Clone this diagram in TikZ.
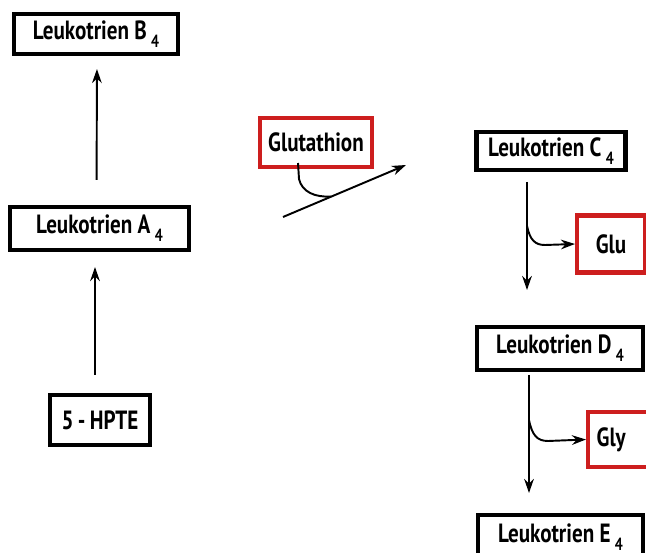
\documentclass[tikz,border=0pt]{standalone}
\usepackage{fontspec}
\setmainfont{PT Sans}[FakeStretch=0.8]
\usetikzlibrary{arrows.meta, positioning, calc}
\definecolor{boxred}{RGB}{205,30,30}
\newcommand{\lt}[2]{Leukotrien #1\,\raisebox{-0.6ex}{\fontsize{10}{10}\selectfont #2}}
\tikzset{
  stoffbox/.style={rectangle, draw=black, line width=2.3pt, fill=white,
                   inner sep=0pt, font=\fontsize{15}{17}\selectfont\bfseries},
  agensbox/.style={stoffbox, draw=boxred},
  pfeil/.style={line width=1.1pt, -{Stealth[length=8pt, width=5.5pt]}},
  linie/.style={line width=1.1pt},
}
\begin{document}
\begin{tikzpicture}[x=0.02cm, y=-0.02cm]
    \useasboundingbox (0,0) rectangle (646,553);
    \clip (0,0) rectangle (646,553);
    % Left column
    \node[stoffbox, minimum width=164*0.02cm, minimum height=40*0.02cm]
      (ltb) at (96,34) {\lt{B}{4}};
    \node[stoffbox, minimum width=179*0.02cm, minimum height=43*0.02cm]
      (lta) at (99.5,228.5) {\lt{A}{4}};
    \node[stoffbox, minimum width=100*0.02cm, minimum height=50*0.02cm]
      (hpte) at (100,420) {5\,-\,HPTE};
    \draw[pfeil, shorten <=25*0.02cm, shorten >=13*0.02cm]
      ([xshift=-3*0.02cm]lta.north) -- ([xshift=1*0.02cm]ltb.south);
    \draw[pfeil, shorten <=18*0.02cm, shorten >=15*0.02cm]
      ([xshift=-5*0.02cm]hpte.north) -- ([xshift=-4.5*0.02cm]lta.south);
    % Glutathion
    \node[agensbox, minimum width=112*0.02cm, minimum height=49*0.02cm]
      (glut) at (316,142.5) {Glutathion};
    \coordinate (diagA) at (283,217);
    \coordinate (diagB) at (406,165);
    \coordinate (diagM) at (331,196.5);
    \draw[pfeil] (diagA) -- (diagB);
    \draw[linie] ([xshift=-18*0.02cm, yshift=6*0.02cm]glut.south)
      -- ++(1,16) .. controls (302,192) and (315,197.5) .. (diagM);
    % Right column
    \node[stoffbox, minimum width=149*0.02cm, minimum height=38*0.02cm]
      (ltc) at (551,151) {\lt{C}{4}};
    \node[agensbox, minimum width=68*0.02cm, minimum height=57*0.02cm]
      (glu) at (611,244) {Glu};
    \node[stoffbox, minimum width=166*0.02cm, minimum height=43*0.02cm]
      (ltd) at (560,348.5) {\lt{D}{4}};
    \node[agensbox, minimum width=64*0.02cm, minimum height=55*0.02cm]
      (gly) at (620,439.5) {\hspace*{-10pt}Gly};
    \node[stoffbox, minimum width=165*0.02cm, minimum height=48*0.02cm]
      (lte) at (560.5,539) {\raisebox{6.5pt}{\lt{E}{4}}};
    \coordinate (ltcout) at (527,182);
    \coordinate (ltcend) at (527,290);
    \draw[pfeil] (ltcout) -- (ltcend);
    \draw[pfeil] (527,226) .. controls (530,240) and (535,245) .. (545,245)
      -- (glu.west);
    \coordinate (ltdout) at (529,375);
    \coordinate (ltdend) at (529,493);
    \draw[pfeil] (ltdout) -- (ltdend);
    \draw[pfeil] (529,420) .. controls (532,435) and (537,441) .. (548,441)
      -- (gly.west);
\end{tikzpicture}
\end{document}
